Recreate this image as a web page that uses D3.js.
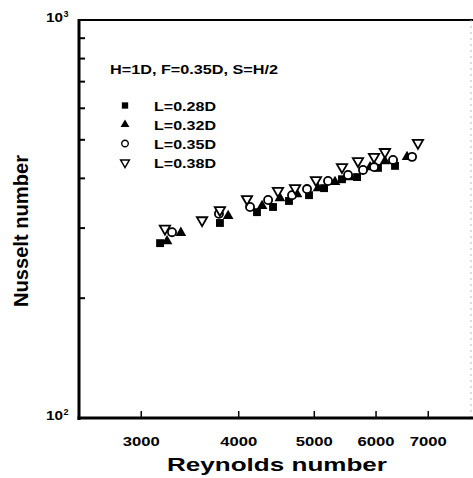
<!DOCTYPE html>
<html><head><meta charset="utf-8">
<script src="https://cdn.jsdelivr.net/npm/d3@7"></script>
<style>
html,body{margin:0;padding:0;background:#fff;}
text{font-family:"Liberation Sans",Arial,sans-serif;font-weight:bold;fill:#000;}
</style></head>
<body><svg id="c" width="473" height="478"></svg>
<script>
// ---- data ----
const seriesNames = ["L=0.28D","L=0.32D","L=0.35D","L=0.38D"];
const reL028 = [3176,3790,4228,4433,4647,4930,5154,5434,5681,6043,6355];
const nuL028 = [275,309,329,339,351,363,378,398,403,425,430];
const reL032 = [3242,3377,3883,4292,4524,4759,5063,5323,5565,5903,6169,6585];
const nuL032 = [278,292,322,341,357,365,378,392,403,427,442,453];
const reL035 = [3290,3779,4142,4369,4689,4901,5215,5532,5782,5973,6318,6683];
const nuL035 = [293,326,339,353,363,376,394,408,420,427,445,453];
const reL038 = [3222,3595,3790,4105,4498,4731,5032,5434,5697,5973,6169,6800];
const nuL038 = [299,314,333,355,372,378,396,427,442,453,466,491];
const xTicks = [3000,4000,5000,6000,7000];
const yMajorTicks = [100,1000];
const yMinorTicks = [200,300,400,500,600,700,800,900];
const legendTitle = "H=1D, F=0.35D, S=H/2";

const svg = d3.select("#c");
const x = d3.scaleLog().domain([2500,8000]).range([79,473]);
const y = d3.scaleLog().domain([100,1000]).range([418,20]);

// frame
svg.append("line").attr("x1",79).attr("x2",473).attr("y1",20).attr("y2",20).attr("stroke","#000").attr("stroke-width",2);
svg.append("line").attr("x1",471).attr("x2",471).attr("y1",20).attr("y2",418).attr("stroke","#bbb").attr("stroke-width",1).attr("stroke-dasharray","2,4");

// x axis
const xAxis = d3.axisBottom(x).tickValues(xTicks).tickSize(0).tickFormat(d3.format("d"));
const gx = svg.append("g").attr("transform","translate(0,418)").call(xAxis);
gx.select(".domain").remove();
gx.selectAll(".tick text").attr("y",19).attr("font-size",12).attr("font-family","Liberation Sans").attr("font-weight","bold")
  .attr("textLength",37).attr("lengthAdjust","spacingAndGlyphs");
gx.selectAll(".tick").append("line").attr("y1",0).attr("y2",-7).attr("stroke","#000").attr("stroke-width",1.5);

// y axis
const yAxis = d3.axisLeft(y).tickValues(yMajorTicks).tickSize(0).tickFormat(()=> "");
const gy = svg.append("g").attr("transform","translate(79,0)").call(yAxis);
gy.select(".domain").remove();
yMinorTicks.forEach(v=>{
  svg.append("line").attr("x1",79).attr("x2",85).attr("y1",y(v)).attr("y2",y(v)).attr("stroke","#000").attr("stroke-width",2);
});
yMajorTicks.forEach(v=>{
  const e = String(Math.round(Math.log10(v)));
  svg.append("text").attr("x",46).attr("y",y(v)+2).attr("font-size",12.5)
    .attr("textLength",17).attr("lengthAdjust","spacingAndGlyphs").text("10");
  svg.append("text").attr("x",63.5).attr("y",y(v)-3.5).attr("font-size",9).text(e);
});
svg.append("line").attr("x1",79).attr("x2",79).attr("y1",19).attr("y2",420).attr("stroke","#000").attr("stroke-width",3);
svg.append("line").attr("x1",77.5).attr("x2",473).attr("y1",418).attr("y2",418).attr("stroke","#000").attr("stroke-width",3);

// axis titles
svg.append("text").attr("x",167).attr("y",471).attr("font-size",19)
  .attr("textLength",220).attr("lengthAdjust","spacingAndGlyphs").text("Reynolds number");
svg.append("text").attr("transform","translate(28,231) rotate(-90)").attr("text-anchor","middle").attr("font-size",20)
  .attr("textLength",152).attr("lengthAdjust","spacingAndGlyphs").text("Nusselt number");

// markers
const sym = {
  sq: d3.symbol().type(d3.symbolSquare).size(62),
  tri: d3.symbol().type(d3.symbolTriangle).size(50),
  cir: d3.symbol().type(d3.symbolCircle).size(52),
  dtri: d3.symbol().type(d3.symbolTriangle).size(46)
};
const sets = [
  {re:reL028, nu:nuL028, s:"sq", fill:"#000", stroke:"none", rot:0},
  {re:reL032, nu:nuL032, s:"tri", fill:"#000", stroke:"none", rot:0},
  {re:reL035, nu:nuL035, s:"cir", fill:"#fff", stroke:"#000", rot:0},
  {re:reL038, nu:nuL038, s:"dtri", fill:"#fff", stroke:"#000", rot:180}
];
sets.forEach(st=>{
  svg.append("g").selectAll("path").data(st.re.map((r,i)=>[r,st.nu[i]])).join("path")
    .attr("d",sym[st.s]())
    .attr("transform",d=>`translate(${x(d[0])},${y(d[1])}) rotate(${st.rot})`)
    .attr("fill",st.fill).attr("stroke",st.stroke).attr("stroke-width",1.8);
});

// legend
svg.append("text").attr("x",110).attr("y",74).attr("font-size",12.5)
  .attr("textLength",168).attr("lengthAdjust","spacingAndGlyphs").text(legendTitle);
seriesNames.forEach((n,i)=>{
  const st = sets[i];
  const cy = 105.5 + 19*i;
  const size = {sq:40,tri:34,cir:34,dtri:34}[st.s];
  svg.append("path").attr("d",d3.symbol().type(st.s==="sq"?d3.symbolSquare:st.s==="cir"?d3.symbolCircle:d3.symbolTriangle).size(size)())
    .attr("transform",`translate(125,${cy}) rotate(${st.rot})`)
    .attr("fill",st.fill).attr("stroke",st.stroke).attr("stroke-width",1.4);
  svg.append("text").attr("x",154).attr("y",cy+5.5).attr("font-size",12)
    .attr("textLength",62).attr("lengthAdjust","spacingAndGlyphs").text(n);
});
</script></body></html>
